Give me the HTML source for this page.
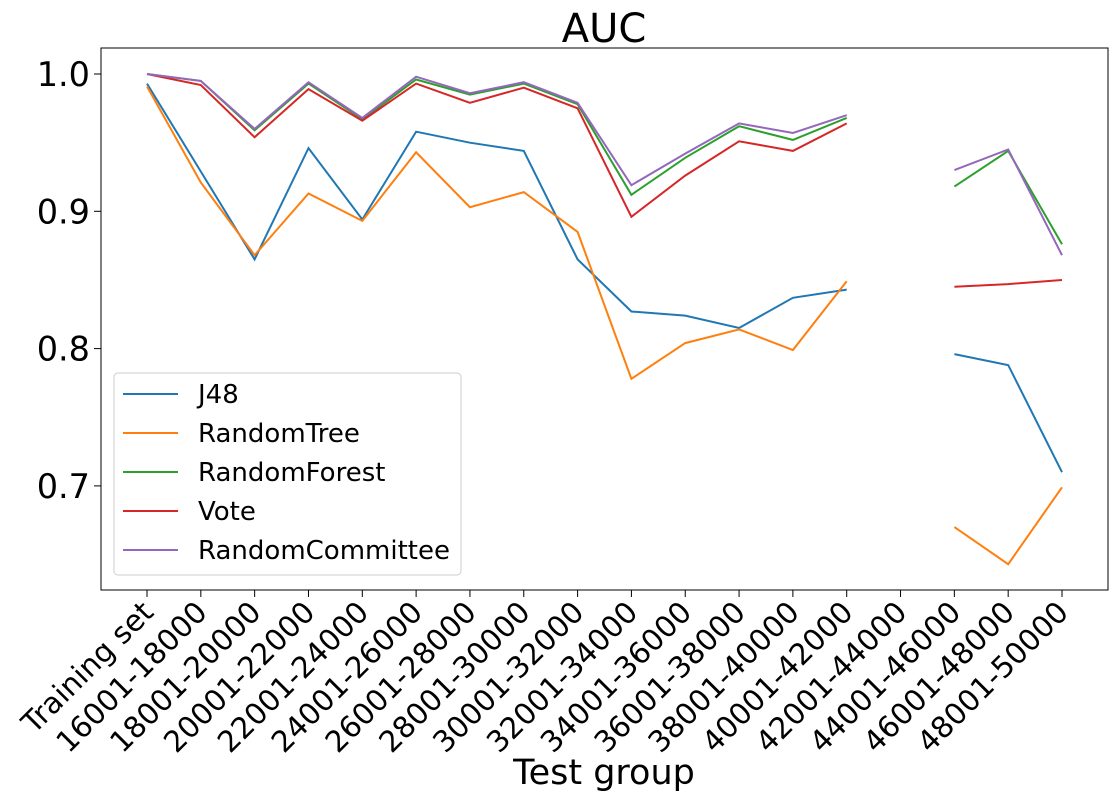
<!DOCTYPE html>
<html><head><meta charset="utf-8"><style>
body{margin:0;background:#fff;}
svg text{font-family:"DejaVu Sans","Liberation Sans",sans-serif;fill:#000;}
</style></head><body>
<svg id="chart" width="1118" height="800" xmlns="http://www.w3.org/2000/svg"></svg>
<script>
const categories=["Training set","16001-18000","18001-20000","20001-22000","22001-24000","24001-26000","26001-28000","28001-30000","30001-32000","32001-34000","34001-36000","36001-38000","38001-40000","40001-42000","42001-44000","44001-46000","46001-48000","48001-50000"];
const seriesNames=["J48","RandomTree","RandomForest","Vote","RandomCommittee"];
const colors=["#1f77b4","#ff7f0e","#2ca02c","#d62728","#9467bd"];
const j48=[0.993,0.929,0.865,0.946,0.894,0.958,0.950,0.944,0.865,0.827,0.824,0.815,0.837,0.843,null,0.796,0.788,0.710];
const randomTree=[0.991,0.921,0.868,0.913,0.893,0.943,0.903,0.914,0.885,0.778,0.804,0.814,0.799,0.849,null,0.670,0.643,0.699];
const randomForest=[1.0,0.995,0.959,0.993,0.967,0.996,0.985,0.993,0.978,0.912,0.939,0.962,0.952,0.968,null,0.918,0.944,0.876];
const vote=[1.0,0.992,0.954,0.989,0.966,0.993,0.979,0.990,0.975,0.896,0.926,0.951,0.944,0.964,null,0.845,0.847,0.850];
const randomCommittee=[1.0,0.995,0.960,0.994,0.968,0.998,0.986,0.994,0.979,0.919,0.942,0.964,0.957,0.970,null,0.930,0.945,0.868];
const yTicks=[0.7,0.8,0.9,1.0];
const yTickLabels=["0.7","0.8","0.9","1.0"];
const allSeries=[j48,randomTree,randomForest,vote,randomCommittee];

const NS="http://www.w3.org/2000/svg";
const svg=document.getElementById("chart");
const L=101,R=1108,T=48,B=590;
const x0=147,dx=(1062-147)/(categories.length-1);
function xs(i){return x0+i*dx;}
function ys(v){return 74+(1.0-v)*1373;}
function mk(tag,attrs,parent){const e=document.createElementNS(NS,tag);for(const k in attrs)e.setAttribute(k,attrs[k]);(parent||svg).appendChild(e);return e;}

const title=mk("text",{x:604,y:42,"text-anchor":"middle","font-size":"40"});


title.textContent="AUC";

categories.forEach((c,i)=>{
  const t=mk("line",{x1:xs(i),x2:xs(i),y1:B,y2:B+7,stroke:"#000","stroke-width":1});
  
  
  const lb=mk("text",{x:0,y:0,"text-anchor":"end","font-size":"29.5",transform:`translate(${xs(i)+8},${B+24}) rotate(-45)`});
  
  
  lb.textContent=c;
});
yTicks.forEach((v,i)=>{
  const t=mk("line",{x1:L-7,x2:L,y1:ys(v),y2:ys(v),stroke:"#000","stroke-width":1});
  
  
  const lb=mk("text",{x:L-11,y:ys(v)+12,"text-anchor":"end","font-size":"33.5"});
  
  
  lb.textContent=yTickLabels[i];
});

allSeries.forEach((s,k)=>{
  let d="",pen=false;
  s.forEach((v,i)=>{
    if(v===null){pen=false;return;}
    d+=(pen?"L":"M")+xs(i).toFixed(1)+","+ys(v).toFixed(1);
    pen=true;
  });
  const p=mk("path",{d:d,fill:"none",stroke:colors[k],"stroke-width":2});
  
  
});

const frame=mk("rect",{x:L,y:T,width:R-L,height:B-T,fill:"none",stroke:"#000","stroke-width":1});



const xl=mk("text",{x:604,y:784,"text-anchor":"middle","font-size":"35"});


xl.textContent="Test group";

const lg=mk("g",{});


mk("rect",{x:114,y:373,width:347,height:202,rx:4,fill:"#fff","fill-opacity":0.8,stroke:"#ccc"},lg);
seriesNames.forEach((n,k)=>{
  const y=394+k*39;
  const ln=mk("line",{x1:123,x2:178,y1:y,y2:y,stroke:colors[k],"stroke-width":2},lg);
  
  
  const t=mk("text",{x:198,y:y+9,"font-size":"26"},lg);
  
  
  t.textContent=n;
});
</script>
</body></html>
